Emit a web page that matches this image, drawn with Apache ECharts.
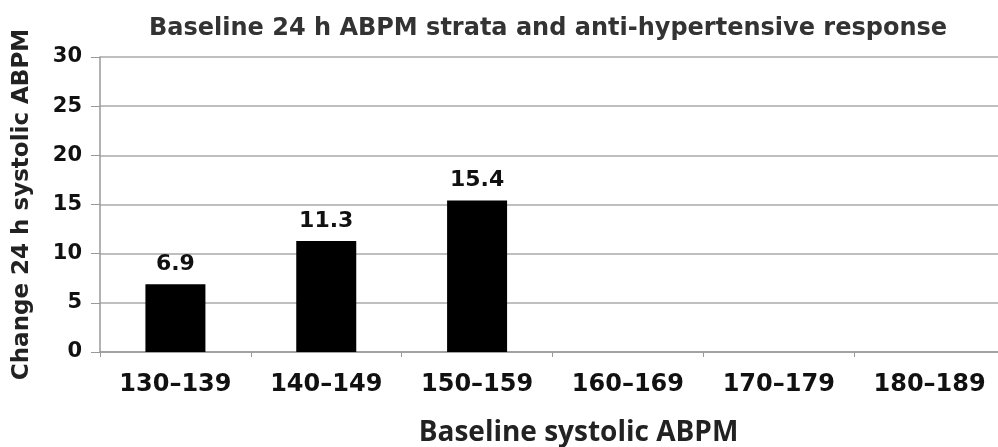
<!DOCTYPE html>
<html><head><meta charset="utf-8">
<script src="https://cdn.jsdelivr.net/npm/echarts@6/dist/echarts.min.js"></script>
<style>html,body{margin:0;padding:0;background:#fff}#c{width:998px;height:447px}</style>
</head><body><div id="c"></div>
<script>
var categories = ['130\u2013139','140\u2013149','150\u2013159','160\u2013169','170\u2013179','180\u2013189'];
var values = [6.9, 11.3, 15.4, null, null, null];
var yTicks = {min: 0, max: 30, interval: 5};

var chart = echarts.init(document.getElementById('c'));
chart.setOption({
  animation: false,
  backgroundColor: '#fff',
  title: {
    text: 'Baseline 24 h ABPM strata and anti-hypertensive response',
    left: 543, top: 12, textAlign: 'center',
    textStyle: {fontFamily: 'DejaVu Sans', fontWeight: 'bold', fontSize: 24, color: '#333'}
  },
  grid: {left: 100, top: 57, width: 905, height: 295, containLabel: false, outerBoundsMode: 'none'},
  xAxis: {
    type: 'category', data: categories,
    axisLine: {lineStyle: {color: '#999', width: 1.5}},
    axisTick: {show: true, length: 5, lineStyle: {color: '#999'}},
    axisLabel: {fontFamily: 'DejaVu Sans', fontWeight: 'bold', fontSize: 24, color: '#111', margin: 21},
    name: 'Baseline systolic ABPM', nameLocation: 'middle', nameGap: 67,
    nameTextStyle: {fontFamily: 'Open Sans', fontWeight: 'bold', fontSize: 28, color: '#222', padding: [0, 0, 0, 52]}
  },
  yAxis: {
    type: 'value', min: yTicks.min, max: yTicks.max, interval: yTicks.interval,
    axisLine: {show: true, lineStyle: {color: '#999', width: 1.5}},
    axisTick: {show: true, length: 9, lineStyle: {color: '#999'}},
    splitLine: {lineStyle: {color: '#aaa', width: 1.5}},
    axisLabel: {fontFamily: 'DejaVu Sans', fontWeight: 'bold', fontSize: 21, color: '#111', margin: 18},
    name: 'Change 24 h systolic ABPM', nameLocation: 'middle', nameGap: 66,
    nameTextStyle: {fontFamily: 'DejaVu Sans', fontWeight: 'bold', fontSize: 23, color: '#222'}
  },
  series: [{
    type: 'bar', data: values, barWidth: 60,
    itemStyle: {color: '#000'},
    label: {show: true, position: 'top', distance: 9, fontFamily: 'DejaVu Sans', fontWeight: 'bold', fontSize: 22, color: '#111'}
  }]
});
</script></body></html>
